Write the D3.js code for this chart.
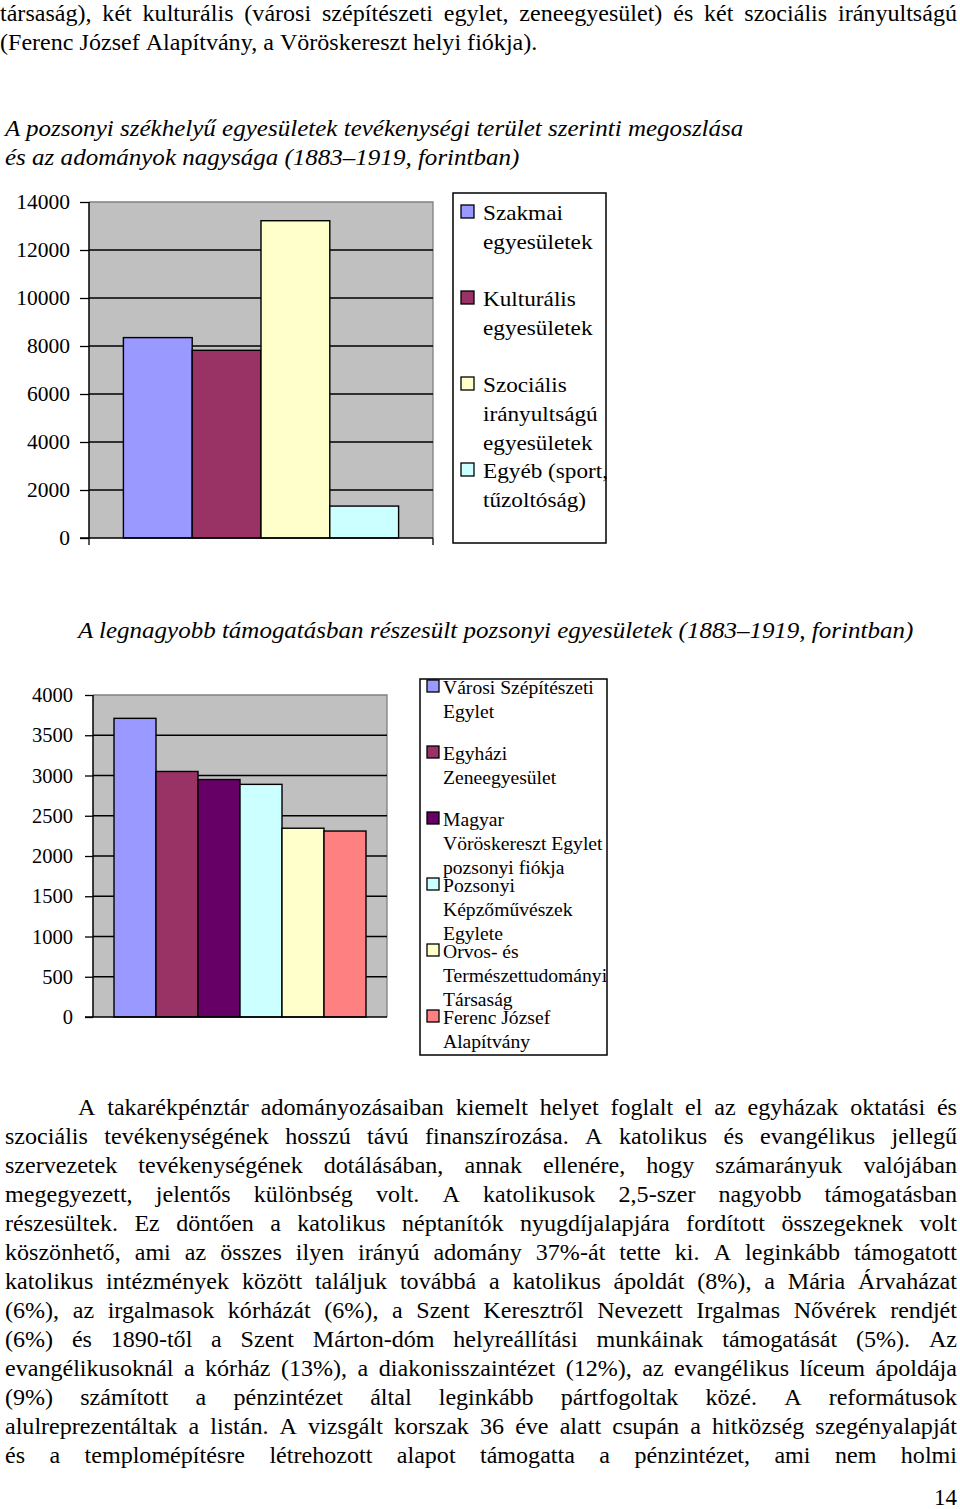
<!DOCTYPE html>
<html>
<head>
<meta charset="utf-8">
<script src="https://cdn.jsdelivr.net/npm/d3@7"></script>
<style>
  html, body { margin: 0; padding: 0; background: #fff; }
  svg { display: block; }
  text { font-family: "Liberation Serif", "Times New Roman", serif; fill: #000; }
</style>
</head>
<body>
<svg id="page" width="960" height="1509"></svg>
<script>
// ---------- DATA ----------
const topLines = [
  "társaság), két kulturális (városi szépítészeti egylet, zeneegyesület) és két szociális irányultságú",
  "(Ferenc József Alapítvány, a Vöröskereszt helyi fiókja)."
];
const title1Lines = [
  "A pozsonyi székhelyű egyesületek tevékenységi terület szerinti megoszlása",
  "és az adományok nagysága (1883–1919, forintban)"
];
const categoriesA = [
  "Szakmai egyesületek",
  "Kulturális egyesületek",
  "Szociális irányultságú egyesületek",
  "Egyéb (sport, tűzoltóság)"
];
const legendLinesA = [
  ["Szakmai", "egyesületek"],
  ["Kulturális", "egyesületek"],
  ["Szociális", "irányultságú", "egyesületek"],
  ["Egyéb (sport,", "tűzoltóság)"]
];
const valuesA = [8350, 7820, 13220, 1330];
const colorsA = ["#9999FF", "#993366", "#FFFFCC", "#CCFFFF"];
const ticksA = [0, 2000, 4000, 6000, 8000, 10000, 12000, 14000];

const title2 = "A legnagyobb támogatásban részesült pozsonyi egyesületek (1883–1919, forintban)";
const categoriesB = [
  "Városi Szépítészeti Egylet",
  "Egyházi Zeneegyesület",
  "Magyar Vöröskereszt Egylet pozsonyi fiókja",
  "Pozsonyi Képzőművészek Egylete",
  "Orvos- és Természettudományi Társaság",
  "Ferenc József Alapítvány"
];
const legendLinesB = [
  ["Városi Szépítészeti", "Egylet"],
  ["Egyházi", "Zeneegyesület"],
  ["Magyar", "Vöröskereszt Egylet", "pozsonyi fiókja"],
  ["Pozsonyi", "Képzőművészek", "Egylete"],
  ["Orvos- és", "Természettudományi", "Társaság"],
  ["Ferenc József", "Alapítvány"]
];
const valuesB = [3710, 3050, 2950, 2890, 2345, 2310];
const colorsB = ["#9999FF", "#993366", "#660066", "#CCFFFF", "#FFFFCC", "#FF8080"];
const ticksB = [0, 500, 1000, 1500, 2000, 2500, 3000, 3500, 4000];

const bodyLines = [
  "A takarékpénztár adományozásaiban kiemelt helyet foglalt el az egyházak oktatási és",
  "szociális tevékenységének hosszú távú finanszírozása. A katolikus és evangélikus jellegű",
  "szervezetek tevékenységének dotálásában, annak ellenére, hogy számarányuk valójában",
  "megegyezett, jelentős különbség volt. A katolikusok 2,5-szer nagyobb támogatásban",
  "részesültek. Ez döntően a katolikus néptanítók nyugdíjalapjára fordított összegeknek volt",
  "köszönhető, ami az összes ilyen irányú adomány 37%-át tette ki. A leginkább támogatott",
  "katolikus intézmények között találjuk továbbá a katolikus ápoldát (8%), a Mária Árvaházat",
  "(6%), az irgalmasok kórházát (6%), a Szent Keresztről Nevezett Irgalmas Nővérek rendjét",
  "(6%) és 1890-től a Szent Márton-dóm helyreállítási munkáinak támogatását (5%). Az",
  "evangélikusoknál a kórház (13%), a diakonisszaintézet (12%), az evangélikus líceum ápoldája",
  "(9%) számított a pénzintézet által leginkább pártfogoltak közé. A reformátusok",
  "alulreprezentáltak a listán. A vizsgált korszak 36 éve alatt csupán a hitközség szegényalapját",
  "és a templomépítésre létrehozott alapot támogatta a pénzintézet, ami nem holmi"
];
const pageNumber = "14";

// ---------- HELPERS ----------
const svg = d3.select("#page");
svg.append("rect").attr("width", 960).attr("height", 1509).attr("fill", "#fff");

function textLine(str, x0, x1, y, size, sx, justify) {
  const g = svg.append("g");
  const words = str.split(" ");
  const nodes = words.map(w => g.append("text").attr("font-size", size).attr("y", 0).text(w));
  const widths = nodes.map(n => n.node().getComputedTextLength());
  const sum = d3.sum(widths);
  const space = size * 0.25;
  let gap = space;
  if (justify && words.length > 1) {
    gap = ((x1 - x0) / sx - sum) / (words.length - 1);
    const minGap = space * 0.55;
    if (gap < minGap) {
      gap = minGap;
      sx = (x1 - x0) / (sum + minGap * (words.length - 1));
    }
  }
  let cx = 0;
  nodes.forEach((n, i) => { n.attr("x", cx); cx += widths[i] + gap; });
  g.attr("transform", `translate(${x0},${y}) scale(${sx},1)`);
}

function stretchedText(str, x, y, size, sx, opts = {}) {
  const g = svg.append("g").attr("transform", `translate(${x},${y}) scale(${sx},1)`);
  const t = g.append("text").attr("x", 0).attr("y", 0).attr("font-size", size).text(str);
  if (opts.italic) t.attr("font-style", "italic");
  if (opts.fill) t.attr("fill", opts.fill);
  if (opts.anchor) t.attr("text-anchor", opts.anchor);
  return t;
}

const BODY_SIZE = 22.5, BODY_SX = 1.07;

// ---------- TOP TEXT ----------
textLine(topLines[0], 0, 957, 21, BODY_SIZE, BODY_SX, true);
textLine(topLines[1], 0, 957, 50, BODY_SIZE, BODY_SX, false);

// ---------- CHART 1 ----------
title1Lines.forEach((l, i) => stretchedText(l, 5, 136 + i * 29, 23.5, 1.066, {italic: true, fill: "#1a1a1a"}));

function barChart(cfg) {
  const {x0, x1, y0, y1, max, ticks, cats, values, colors, tickSize, endTicks} = cfg;
  const y = d3.scaleLinear().domain([0, max]).range([y0, y1]);
  const x = d3.scaleBand().domain(cats).range([x0, x1]).paddingInner(0).paddingOuter(0.5);
  const g = svg.append("g");
  g.append("rect").attr("x", x0).attr("y", y1).attr("width", x1 - x0).attr("height", y0 - y1)
    .attr("fill", "#C0C0C0");
  g.append("path").attr("d", `M${x0},${y1}H${x1}V${y0}`).attr("fill", "none")
    .attr("stroke", "#808080").attr("stroke-width", 1.3);
  g.selectAll(".grid").data(ticks.filter(t => t > 0 && t < max)).join("line")
    .attr("x1", x0).attr("x2", x1).attr("y1", d => y(d)).attr("y2", d => y(d))
    .attr("stroke", "#000").attr("stroke-width", 1.3);
  g.selectAll(".bar").data(values).join("rect")
    .attr("x", (d, i) => x(cats[i])).attr("width", x.bandwidth())
    .attr("y", d => y(d)).attr("height", d => y0 - y(d))
    .attr("fill", (d, i) => colors[i]).attr("stroke", "#000").attr("stroke-width", 1.4);
  const axis = d3.axisLeft(y).tickValues(ticks).tickSize(x0 - cfg.tickLeft).tickFormat(d3.format("d"));
  const ag = g.append("g").attr("transform", `translate(${x0},0)`).call(axis);
  ag.select(".domain").remove();
  ag.selectAll(".tick line").attr("stroke", "#000").attr("stroke-width", 1.3);
  ag.selectAll(".tick text").attr("font-size", tickSize).attr("fill", "#000")
    .attr("font-family", "Liberation Serif").attr("dx", cfg.labelDx);
  g.append("line").attr("x1", x0).attr("x2", x0).attr("y1", y1).attr("y2", y0)
    .attr("stroke", "#000").attr("stroke-width", 1.5);
  g.append("line").attr("x1", cfg.tickLeft).attr("x2", x1).attr("y1", y0).attr("y2", y0)
    .attr("stroke", "#000").attr("stroke-width", 1.5);
  if (endTicks) {
    [x0, x1].forEach(xx => g.append("line").attr("x1", xx).attr("x2", xx)
      .attr("y1", y0).attr("y2", y0 + 7).attr("stroke", "#000").attr("stroke-width", 1.3));
  }
}

barChart({x0: 89, x1: 433, y0: 538, y1: 202, max: 14000, ticks: ticksA,
  cats: categoriesA, values: valuesA, colors: colorsA, tickSize: 21.5, tickLeft: 80,
  labelDx: -7, endTicks: true});

function legend(cfg) {
  const {bx, by, bw, bh, lines, colors, size, sx, sw, swx, tx, base0, step, lh} = cfg;
  svg.append("rect").attr("x", bx).attr("y", by).attr("width", bw).attr("height", bh)
    .attr("fill", "#fff").attr("stroke", "#000").attr("stroke-width", 1.5);
  lines.forEach((ls, i) => {
    const b = base0 + i * step;
    svg.append("rect").attr("x", swx).attr("y", b - sw - 2).attr("width", sw).attr("height", sw)
      .attr("fill", colors[i]).attr("stroke", "#000").attr("stroke-width", 1.3);
    ls.forEach((t, j) => stretchedText(t, tx, b + j * lh, size, sx));
  });
}

legend({bx: 453, by: 193, bw: 153, bh: 350, lines: legendLinesA, colors: colorsA,
  size: 21.5, sx: 1.08, sw: 13, swx: 461, tx: 483, base0: 220, step: 86, lh: 28.8});

// ---------- CHART 2 ----------
stretchedText(title2, 78, 638, 23.5, 1.064, {italic: true});

barChart({x0: 93, x1: 387, y0: 1017, y1: 695, max: 4000, ticks: ticksB,
  cats: categoriesB, values: valuesB, colors: colorsB, tickSize: 20.5, tickLeft: 85,
  labelDx: -9, endTicks: false});

legend({bx: 420, by: 679, bw: 187, bh: 376, lines: legendLinesB, colors: colorsB,
  size: 18, sx: 1.09, sw: 12, swx: 427, tx: 443, base0: 694, step: 66, lh: 24});

// ---------- BODY ----------
bodyLines.forEach((l, i) => {
  textLine(l, i === 0 ? 78 : 5, 957, 1115 + i * 29, BODY_SIZE, BODY_SX, true);
});
stretchedText(pageNumber, 957, 1505, 23, 1.0, {anchor: "end"});
</script>
</body>
</html>
